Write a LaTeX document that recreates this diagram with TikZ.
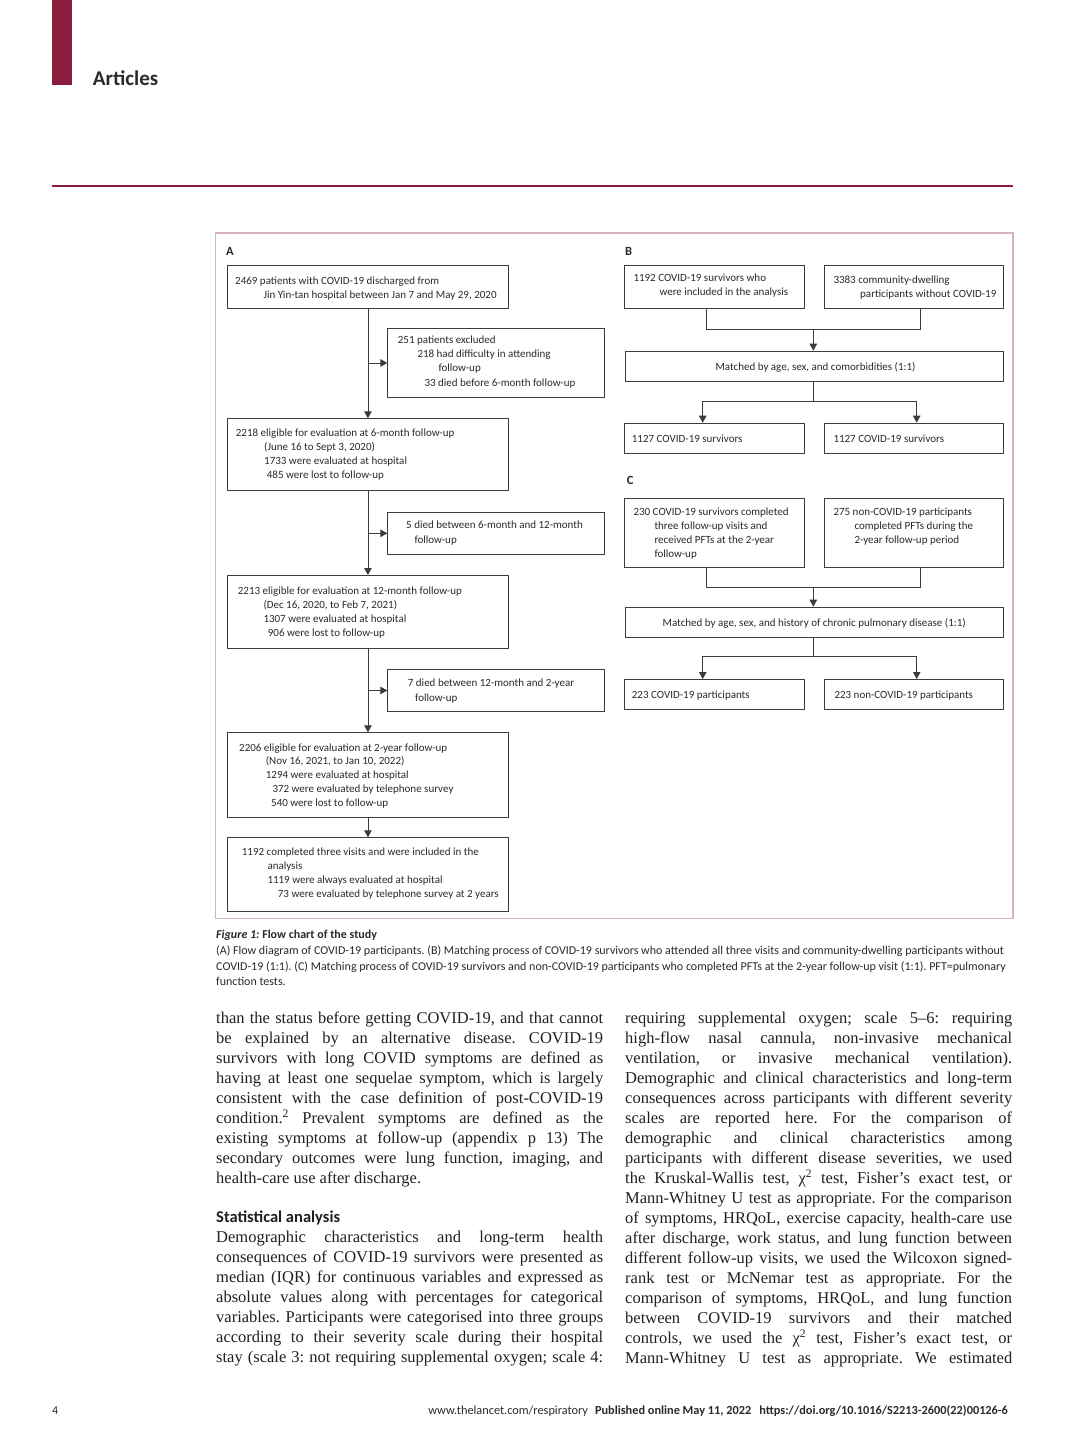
\documentclass[tikz,border=0pt]{standalone}
\usepackage{fontspec}
\setmainfont{Liberation Serif}
\newfontfamily\sansf{Carlito}
\usetikzlibrary{arrows.meta}
\frenchspacing
\definecolor{maroon}{HTML}{8C1C3E}
\definecolor{framecol}{HTML}{D6B3BE}
\definecolor{boxline}{HTML}{3C3C3C}
\definecolor{txtcol}{HTML}{2A2A2A}
\definecolor{bodycol}{HTML}{231F20}
\newcounter{ln}
\newcommand\tline[3]{\stepcounter{ln}\node[btxt] (l\theln) at (#1,#2) {#3};}
\newcommand\jline[3]{\stepcounter{ln}\node[bodytxt] (l\theln) at (#1,#2) {\makebox[387pt][s]{#3}};}
\newcommand\rline[3]{\stepcounter{ln}\node[bodytxt] (l\theln) at (#1,#2) {#3};}
\tikzset{
  fbox/.style={draw=boxline, line width=0.9pt, inner sep=0pt, anchor=north west},
  btxt/.style={font=\sansf\fontsize{11}{14}\selectfont, text=txtcol, inner sep=0pt, anchor=base west},
  bodytxt/.style={font=\frenchspacing\fontsize{16.5}{20}\selectfont, text=bodycol, inner sep=0pt, anchor=base west},
  captxt/.style={font=\sansf\fontsize{12}{15}\selectfont, text=txtcol, inner sep=0pt, anchor=base west},
  plabel/.style={font=\sansf\bfseries\fontsize{12.5}{14}\selectfont, text=txtcol, inner sep=0pt, anchor=base west},
  conn/.style={draw=boxline, line width=0.9pt},
  arr/.style={conn, -{Triangle[length=7pt,width=7.5pt]}},
}
\begin{document}
\begin{tikzpicture}[x=1pt,y=-1pt]
\useasboundingbox (0,0) rectangle (1080,1450);
\fill[white] (0,0) rectangle (1080,1450);
% header
\fill[maroon] (51.7,0) rectangle (71.7,85);
\node[font=\sansf\bfseries\fontsize{21}{24}\selectfont, text=txtcol, inner sep=0pt, anchor=base west] (head) at (92.7,86) {Articles};
\fill[maroon] (51.7,185) rectangle (1013,187.5);
% figure frame
\draw[framecol, line width=1.2pt] (215.5,233) rectangle (1013,918.3);
\node[plabel] (labA) at (226,255) {A};
\node[plabel] (labB) at (625,255.5) {B};
\node[plabel] (labC) at (626.7,484) {C};
% ---------- Panel A ----------
\node[fbox, minimum width=280.4pt, minimum height=42.7pt] (a1) at (227.3,265) {};
\tline{235}{284.3}{2469 patients with COVID-19 discharged from}
\tline{263.3}{298}{Jin Yin-tan hospital between Jan 7 and May 29, 2020}
\node[fbox, minimum width=217pt, minimum height=68.4pt] (a2) at (387.3,328.3) {};
\tline{397.7}{343.3}{251 patients excluded}
\tline{417.3}{357.5}{218 had difficulty in attending}
\tline{438.3}{371.7}{follow-up}
\tline{424.3}{386}{33 died before 6-month follow-up}
\node[fbox, minimum width=280.4pt, minimum height=72pt] (a3) at (227.3,418.3) {};
\tline{235.7}{436.7}{2218 eligible for evaluation at 6-month follow-up}
\tline{264}{450.7}{(June 16 to Sept 3, 2020)}
\tline{264}{464.7}{1733 were evaluated at hospital}
\tline{266.7}{478.7}{485 were lost to follow-up}
\node[fbox, minimum width=217pt, minimum height=42.3pt] (a4) at (387.3,511.7) {};
\tline{406}{528.3}{5 died between 6-month and 12-month}
\tline{414.3}{543}{follow-up}
\node[fbox, minimum width=280.4pt, minimum height=73.3pt] (a5) at (227.3,575) {};
\tline{237.7}{594.3}{2213 eligible for evaluation at 12-month follow-up}
\tline{263.3}{608.3}{(Dec 16, 2020, to Feb 7, 2021)}
\tline{263.3}{622.3}{1307 were evaluated at hospital}
\tline{267.7}{636.3}{906 were lost to follow-up}
\node[fbox, minimum width=217pt, minimum height=42pt] (a6) at (387.3,669) {};
\tline{407.7}{686.7}{7 died between 12-month and 2-year}
\tline{415}{701.3}{follow-up}
\node[fbox, minimum width=280.4pt, minimum height=85pt] (a7) at (227.3,732.3) {};
\tline{239}{751}{2206 eligible for evaluation at 2-year follow-up}
\tline{265.7}{764.8}{(Nov 16, 2021, to Jan 10, 2022)}
\tline{265.7}{778.6}{1294 were evaluated at hospital}
\tline{272.3}{792.4}{372 were evaluated by telephone survey}
\tline{271}{806.2}{540 were lost to follow-up}
\node[fbox, minimum width=280.4pt, minimum height=73.4pt] (a8) at (227.3,837.3) {};
\tline{241.7}{855}{1192 completed three visits and were included in the}
\tline{267.3}{869.2}{analysis}
\tline{267.3}{883.4}{1119 were always evaluated at hospital}
\tline{277.7}{897.6}{73 were evaluated by telephone survey at 2 years}
% connectors A
\draw[arr] (a1.south) -- (a3.north);
\draw[arr] (a1.south |- a2.west) -- (a2.west);
\draw[arr] (a3.south) -- (a5.north);
\draw[arr] (a3.south |- a4.west) -- (a4.west);
\draw[arr] (a5.south) -- (a7.north);
\draw[arr] (a5.south |- a6.west) -- (a6.west);
\draw[arr] (a7.south) -- (a8.north);
% ---------- Panel B ----------
\node[fbox, minimum width=180pt, minimum height=43.3pt] (b1) at (624.3,265) {};
\tline{633.3}{281.7}{1192 COVID-19 survivors who}
\tline{659.3}{295.5}{were included in the analysis}
\node[fbox, minimum width=178.4pt, minimum height=43.3pt] (b2) at (824.3,265) {};
\tline{833.3}{283.3}{3383 community-dwelling}
\tline{860}{297.5}{participants without COVID-19}
\node[fbox, minimum width=378.3pt, minimum height=30pt] (bm) at (625,350.7) {};
\node[btxt, anchor=base] (bmt) at (815.5,370.2) {Matched by age, sex, and comorbidities (1:1)};
\node[fbox, minimum width=180pt, minimum height=30pt] (b3) at (624.3,422.7) {};
\tline{631.7}{442.5}{1127 COVID-19 survivors}
\node[fbox, minimum width=178.4pt, minimum height=30pt] (b4) at (824.3,422.7) {};
\tline{833.3}{442.5}{1127 COVID-19 survivors}
\coordinate (bjoin) at (813.3,329.3);
\coordinate (bsplit) at (813.3,401.7);
\draw[conn] ([xshift=81.7pt]b1.south west) |- (bjoin) -| ([xshift=95.7pt]b2.south west);
\draw[arr] (bjoin) -- (bjoin |- bm.north);
\draw[conn] (bsplit |- bm.south) -- (bsplit);
\draw[arr] (bsplit) -| ([xshift=78.4pt]b3.north west);
\draw[arr] (bsplit) -| ([xshift=92.4pt]b4.north west);
% ---------- Panel C ----------
\node[fbox, minimum width=180pt, minimum height=68.4pt] (c1) at (624.3,498.3) {};
\tline{633.3}{515}{230 COVID-19 survivors completed}
\tline{654.3}{529.3}{three follow-up visits and}
\tline{654.3}{543.5}{received PFTs at the 2-year}
\tline{654.3}{557.7}{follow-up}
\node[fbox, minimum width=178.4pt, minimum height=68.4pt] (c2) at (824.3,498.3) {};
\tline{833.3}{515}{275 non-COVID-19 participants}
\tline{854.3}{529.3}{completed PFTs during the}
\tline{854.3}{543.5}{2-year follow-up period}
\node[fbox, minimum width=378.3pt, minimum height=30pt] (cm) at (625,606.7) {};
\node[btxt, anchor=base] (cmt) at (814.2,626.2) {Matched by age, sex, and history of chronic pulmonary disease (1:1)};
\node[fbox, minimum width=180pt, minimum height=30.3pt] (c3) at (624.3,679) {};
\tline{631.7}{698.3}{223 COVID-19 participants}
\node[fbox, minimum width=178.4pt, minimum height=30.3pt] (c4) at (824.3,679) {};
\tline{834.3}{698.3}{223 non-COVID-19 participants}
\coordinate (cjoin) at (813.3,587.3);
\coordinate (csplit) at (813.3,656.7);
\draw[conn] ([xshift=81.7pt]c1.south west) |- (cjoin) -| ([xshift=95.7pt]c2.south west);
\draw[arr] (cjoin) -- (cjoin |- cm.north);
\draw[conn] (csplit |- cm.south) -- (csplit);
\draw[arr] (csplit) -| ([xshift=78.4pt]c3.north west);
\draw[arr] (csplit) -| ([xshift=92.4pt]c4.north west);
% ---------- caption ----------
\node[captxt] (cap0) at (216,938.5) {\bfseries\itshape Figure 1:\upshape\ Flow chart of the study};
\node[captxt] (cap1) at (216,954.5) {(A) Flow diagram of COVID-19 participants. (B) Matching process of COVID-19 survivors who attended all three visits and community-dwelling participants without};
\node[captxt] (cap2) at (216,970) {COVID-19 (1:1). (C) Matching process of COVID-19 survivors and non-COVID-19 participants who completed PFTs at the 2-year follow-up visit (1:1). PFT=pulmonary};
\node[captxt] (cap3) at (216,985.5) {function tests.};
% ---------- body text, left column ----------
\jline{216}{1023.3}{than the status before getting COVID-19, and that cannot}
\jline{216}{1043.3}{be explained by an alternative disease. COVID-19}
\jline{216}{1063.3}{survivors with long COVID symptoms are defined as}
\jline{216}{1083.3}{having at least one sequelae symptom, which is largely}
\jline{216}{1103.3}{consistent with the case definition of post-COVID-19}
\jline{216}{1123.3}{condition.\textsuperscript{2} Prevalent symptoms are defined as the}
\jline{216}{1143.3}{existing symptoms at follow-up (appendix p 13) The}
\jline{216}{1163.3}{secondary outcomes were lung function, imaging, and}
\rline{216}{1183.3}{health-care use after discharge.}
\node[font=\sansf\bfseries\fontsize{16.5}{20}\selectfont, text=bodycol, inner sep=0pt, anchor=base west] (stat) at (216,1222.7) {Statistical analysis};
\jline{216}{1242.7}{Demographic characteristics and long-term health}
\jline{216}{1262.7}{consequences of COVID-19 survivors were presented as}
\jline{216}{1282.7}{median (IQR) for continuous variables and expressed as}
\jline{216}{1302.7}{absolute values along with percentages for categorical}
\jline{216}{1322.7}{variables. Participants were categorised into three groups}
\jline{216}{1342.7}{according to their severity scale during their hospital}
\jline{216}{1362.7}{stay (scale 3: not requiring supplemental oxygen; scale 4:}
% ---------- body text, right column ----------
\jline{625}{1023.3}{requiring supplemental oxygen; scale 5–6: requiring}
\jline{625}{1043.3}{high-flow nasal cannula, non-invasive mechanical}
\jline{625}{1063.3}{ventilation, or invasive mechanical ventilation).}
\jline{625}{1083.3}{Demographic and clinical characteristics and long-term}
\jline{625}{1103.3}{consequences across participants with different severity}
\jline{625}{1123.3}{scales are reported here. For the comparison of}
\jline{625}{1143.3}{demographic and clinical characteristics among}
\jline{625}{1163.3}{participants with different disease severities, we used}
\jline{625}{1183.3}{the Kruskal-Wallis test, χ\textsuperscript{2} test, Fisher’s exact test, or}
\jline{625}{1203.3}{Mann-Whitney U test as appropriate. For the comparison}
\jline{625}{1223.3}{of symptoms, HRQoL, exercise capacity, health-care use}
\jline{625}{1243.3}{after discharge, work status, and lung function between}
\jline{625}{1263.3}{different follow-up visits, we used the Wilcoxon signed-}
\jline{625}{1283.3}{rank test or McNemar test as appropriate. For the}
\jline{625}{1303.3}{comparison of symptoms, HRQoL, and lung function}
\jline{625}{1323.3}{between COVID-19 survivors and their matched}
\jline{625}{1343.3}{controls, we used the χ\textsuperscript{2} test, Fisher’s exact test, or}
\jline{625}{1363.3}{Mann-Whitney U test as appropriate. We estimated}
% ---------- footer ----------
\node[font=\sansf\fontsize{12}{14}\selectfont, text=txtcol, inner sep=0pt, anchor=base west] (pg) at (52,1414) {4};
\node[font=\sansf\fontsize{12.3}{14}\selectfont, text=txtcol, inner sep=0pt, anchor=base east] (foot) at (1008,1414) {www.thelancet.com/respiratory\hspace{7pt}\bfseries Published online May 11, 2022\hspace{8pt}https://doi.org/10.1016/S2213-2600(22)00126-6};
\end{tikzpicture}
\end{document}
